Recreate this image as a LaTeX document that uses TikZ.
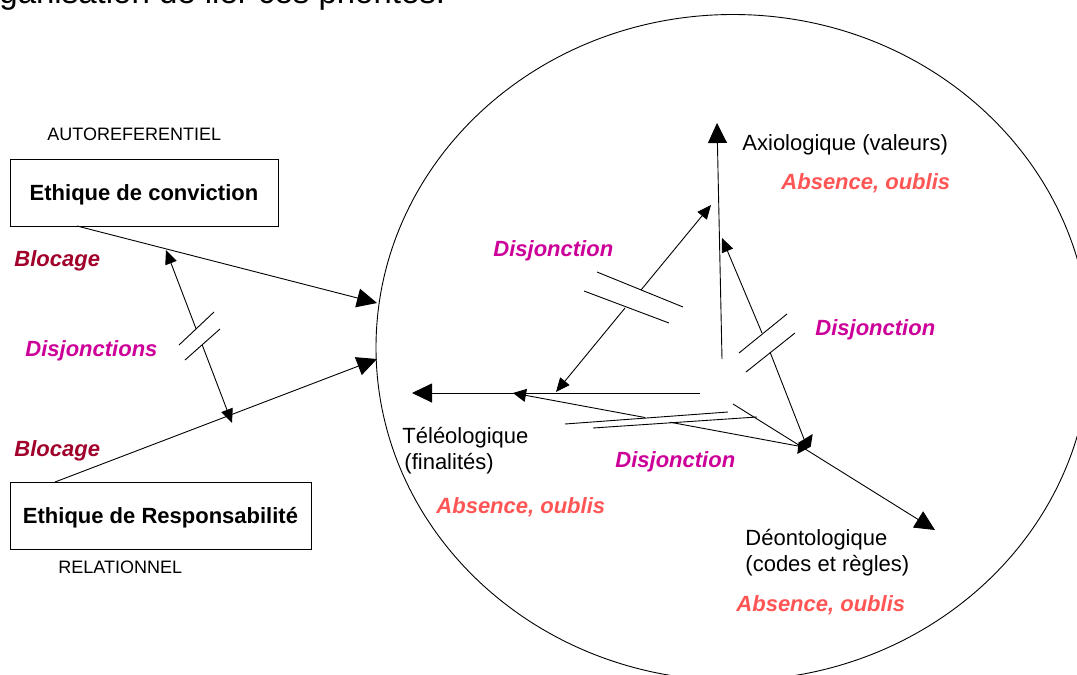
\documentclass[tikz,border=0pt]{standalone}
\usepackage{fontspec}
\setmainfont{Liberation Sans}
\usetikzlibrary{arrows.meta,calc}

\definecolor{blockred}{RGB}{160,0,42}
\definecolor{disjmag}{RGB}{204,0,153}
\definecolor{absred}{RGB}{255,85,85}

\tikzset{
  every node/.style={inner sep=0pt},
  lbl/.style={font=\fontsize{22}{26}\selectfont, anchor=base west},
  capslbl/.style={font=\fontsize{18}{21}\selectfont, anchor=base west},
  blocklbl/.style={font=\fontsize{22}{26}\selectfont\bfseries\itshape, text=blockred, anchor=base west},
  disjlbl/.style={font=\fontsize{22}{26}\selectfont\bfseries\itshape, text=disjmag, anchor=base west},
  abslbl/.style={font=\fontsize{22}{26}\selectfont\bfseries\itshape, text=absred, anchor=base west},
  ethbox/.style={draw, line width=0.9pt, font=\fontsize{22}{26}\selectfont\bfseries,
    minimum height=67pt, text depth=0pt},
  bigtip/.style={-{Triangle[length=20pt,width=19pt]}},
  smalltip/.style={-{Triangle[length=14pt,width=12pt]}},
  tinytip/.style={-{Triangle[length=13pt,width=13pt]}},
  breakmark/.style={line width=0.9pt},
}

\begin{document}
\begin{tikzpicture}[x=1pt, y=-1pt, line width=0.9pt]
\useasboundingbox (0,0) rectangle (1077,675);

% heading line, partly above the page
\node[font=\fontsize{33}{40}\selectfont, anchor=base west] (head) at (-1,3) {ganisation de lier ces priorités.};

% the sphere of ethics
\draw (733,347.5) ellipse [x radius=357, y radius=333];

% left-hand boxes and their captions
\node[capslbl] (autoref) at (47,140) {AUTOREFERENTIEL};
\node[ethbox, minimum width=268pt] (conv) at (144,192.5) {Ethique de conviction};
\node[ethbox, minimum width=301pt] (resp) at (160.5,515.5) {Ethique de Responsabilité};
\node[capslbl] (relat) at (58,573) {RELATIONNEL};

\node[blocklbl] (blocA) at (14,266) {Blocage};
\node[disjlbl] (disjL) at (25,356) {Disjonctions};
\node[blocklbl] (blocB) at (14,456) {Blocage};

% connectors from the boxes into the sphere
\coordinate (convOut) at (77,226);
\coordinate (inTop) at (377,303);
\coordinate (respOut) at (55,482);
\coordinate (inBot) at (377,359);
\draw[bigtip] (convOut) -- (inTop);
\draw[bigtip] (respOut) -- (inBot);

% disjunction between the two ethics
\coordinate (dL1) at (166,250);
\coordinate (dL2) at (232,423);
\coordinate (gL1) at ($(dL1)!0.4566!(dL2)$);
\coordinate (gL2) at ($(dL1)!0.549!(dL2)$);
\draw[smalltip] (gL1) -- (dL1);
\draw[smalltip] (gL2) -- (dL2);
\draw[breakmark] (179,345) -- (214,312);
\draw[breakmark] (185,360) -- (220,329);

% the three poles
\coordinate (axBase) at (722,359);
\coordinate (axTip) at (717,123);
\coordinate (teBase) at (700,393);
\coordinate (teTip) at (412,393);
\coordinate (deBase) at (733,404);
\coordinate (deTip) at (935,530);
\draw[bigtip] (axBase) -- (axTip);
\draw[bigtip] (teBase) -- (teTip);
\draw[bigtip] (deBase) -- (deTip);

\node[lbl] (axio) at (742,150.5) {Axiologique (valeurs)};
\node[abslbl] (absA) at (781,189) {Absence, oublis};
\node[lbl] (teleo) at (402,443) {Téléologique};
\node[lbl] (teleo2) at (404,469) {(finalités)};
\node[abslbl] (absT) at (436,513.5) {Absence, oublis};
\node[lbl] (deonto) at (745,545) {Déontologique};
\node[lbl] (deonto2) at (745,571) {(codes et règles)};
\node[abslbl] (absD) at (736,611.5) {Absence, oublis};

% junction point between the poles
\coordinate (knot) at (805,444);
\fill (812.7,434) -- (810.7,446.7) -- (797.3,454) -- (798.5,442.5) -- cycle;

% disjunction: axiological / teleological
\coordinate (uA) at (556,392);
\coordinate (uB) at (711,205);
\coordinate (gU1) at (625,308);
\coordinate (gU2) at (641,290);
\draw[smalltip] (gU1) -- (uA);
\draw[smalltip] (gU2) -- (uB);
\draw[breakmark] (597,272) -- (683,307);
\draw[breakmark] (584,291) -- (669,323);
\node[disjlbl] (disjU) at (493,256) {Disjonction};

% disjunction: axiological / deontological
\coordinate (rA) at (722,238);
\coordinate (rB) at (804,439);
\coordinate (gR1) at (762,333);
\coordinate (gR2) at (770,352);
\draw[smalltip] (gR1) -- (rA);
\draw (gR2) -- (rB);
\draw[breakmark] (739,353) -- (787,314);
\draw[breakmark] (746,372) -- (795,333);
\node[disjlbl] (disjR) at (815,335) {Disjonction};

% disjunction: teleological / deontological
\coordinate (bA) at (513,393);
\coordinate (bB) at (798,446);
\coordinate (gB1) at (645,417.5);
\coordinate (gB2) at (670,422.2);
\draw[tinytip] (gB1) -- (bA);
\draw (gB2) -- (bB);
\draw[breakmark] (565,424) -- (728,412);
\draw[breakmark] (593,428) -- (757,417);
\node[disjlbl] (disjB) at (615,467.5) {Disjonction};
\end{tikzpicture}
\end{document}
